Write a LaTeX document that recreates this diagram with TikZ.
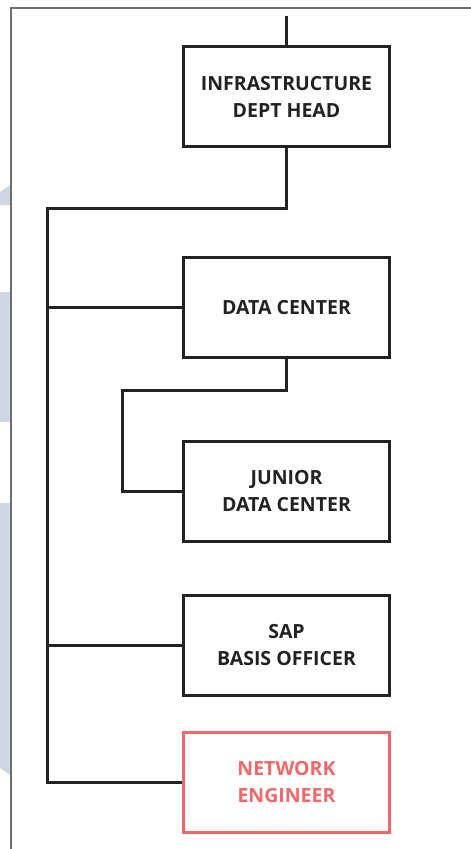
\documentclass[tikz,border=0pt]{standalone}
\usepackage{fontspec}
\setmainfont{Open Sans}
\definecolor{edge}{HTML}{222222}
\definecolor{netred}{HTML}{F06868}
\definecolor{frame}{HTML}{6E6E6E}
\definecolor{stripblue}{HTML}{CDD8E3}
\tikzset{
  box/.style={draw=edge,line width=3pt,minimum width=206pt,minimum height=100pt,
    align=center,inner sep=0pt,font=\fontsize{19.5}{27}\selectfont\bfseries,text=edge},
  redbox/.style={box,draw=netred,text=netred},
  link/.style={draw=edge,line width=3pt}
}
\begin{document}
\begin{tikzpicture}[x=1pt,y=-1pt]
   \useasboundingbox (0,0) rectangle (471,849);
   %shaded strips
   \fill[stripblue] (0,192) -- (10,185) -- (10,205) -- (0,205) -- cycle;
   \fill[stripblue] (0,292) rectangle (10,422);
   \fill[stripblue] (0,503) -- (10,503) -- (10,775) -- (0,768) -- cycle;
   %frame
   \draw[frame,line width=1.5pt] (11,849) -- (11,8) -- (471,8);
   %boxes
   \node[box] (head) at (286.5,96.5) {INFRASTRUCTURE\\DEPT HEAD};
   \node[box] (dc) at (286.5,307.5) {DATA CENTER};
   \node[box] (jdc) at (286.5,491) {JUNIOR\\DATA CENTER};
   \node[box] (sap) at (286.5,645) {SAP\\BASIS OFFICER};
   \node[redbox] (net) at (286.5,782) {NETWORK\\ENGINEER};
   %lines
   \coordinate (up) at (286.5,16);
   \coordinate (spine) at (47,208);
   \coordinate (jbend) at (122,390);
   \draw[link] (up) -- (head.north);
   \draw[link] (head.south) |- (spine) |- (net.west);
   \draw[link] (spine |- dc.west) -- (dc.west);
   \draw[link] (spine |- sap.west) -- (sap.west);
   \draw[link] (dc.south) |- (jbend) |- (jdc.west);
\end{tikzpicture}
\end{document}
